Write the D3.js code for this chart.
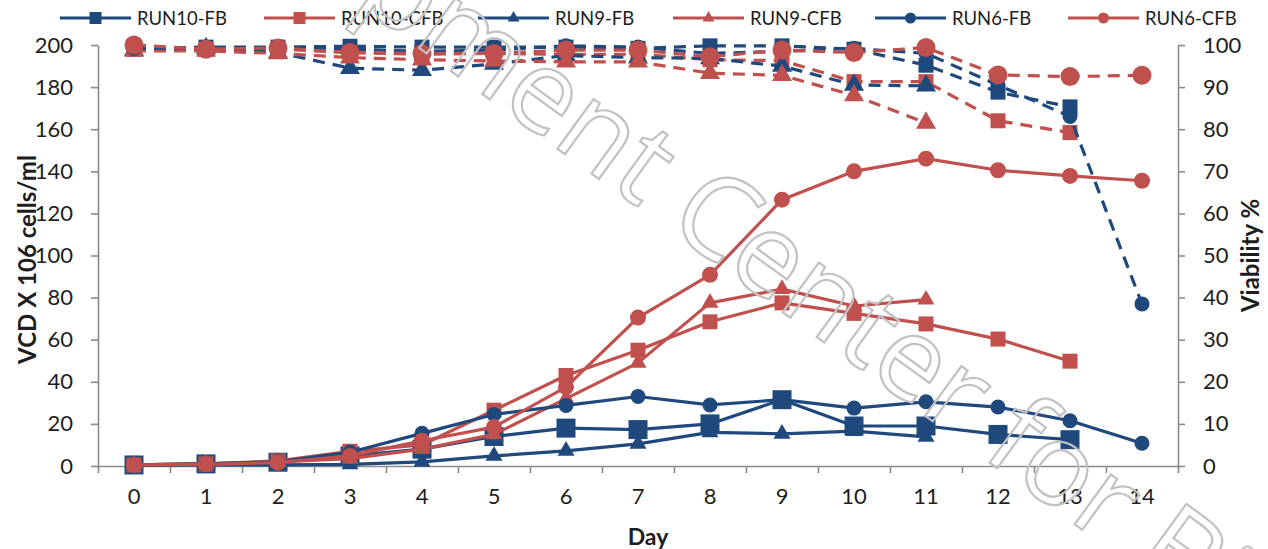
<!DOCTYPE html>
<html><head><meta charset="utf-8">
<script src="https://cdn.jsdelivr.net/npm/d3@7"></script>
<style>
body{margin:0;background:#fff;}
svg{display:block;}
text{font-family:Lato,"Open Sans",sans-serif;}
</style>
</head><body>
<svg id="chart" width="1268" height="549"></svg>
<script>
// ---------- data ----------
const days = d3.range(0, 15);
const vcdTicks = d3.range(0, 201, 20);
const viaTicks = d3.range(0, 101, 10);
const seriesNames = ["RUN10-FB", "RUN10-CFB", "RUN9-FB", "RUN9-CFB", "RUN6-FB", "RUN6-CFB"];

// VCD (x10^6 cells/ml), left axis
const run10FB_vcd  = [0.5, 1, 1.8, 4.8, 8, 14, 18, 17.3, 20, 31.5, 19, 19, 15, 12.5];
const run10CFB_vcd = [0.5, 1, 2.4, 7, 10, 26.5, 43, 55, 68.5, 77.5, 72.5, 67.5, 60.3, 49.8];
const run9FB_vcd   = [0.3, 0.5, 0.5, 0.8, 2, 4.8, 7.2, 10.5, 16, 15.3, 16.6, 13.8];
const run9CFB_vcd  = [0.5, 1, 2, 3.5, 8, 15, 32, 49, 77.5, 84, 76, 79];
const run6FB_vcd   = [0.5, 1, 2, 6.5, 15.5, 24.5, 28.8, 33, 29, 31.5, 27.5, 30.5, 28, 21.5, 10.8];
const run6CFB_vcd  = [0.5, 0.8, 1.6, 4.8, 12, 18.5, 37.5, 70.5, 90.8, 126.5, 140, 146, 140.5, 137.8, 135.5];

// Viability (%), right axis
const run10FB_via  = [99, 99.5, 99.5, 99.7, 99.5, 99.5, 99.5, 99.2, 99.8, 99.8, 99, 95.2, 88.8, 85.3];
const run10CFB_via = [99.5, 99, 99, 98.2, 97.8, 98, 97.8, 97.8, 96.5, 96.3, 91.3, 91.3, 82, 79.2];
const run9FB_via   = [98.8, 99.2, 98.2, 94.5, 94, 95.5, 97.5, 97, 96.8, 95, 90.5, 90.3];
const run9CFB_via  = [98.6, 98.6, 98, 97, 96.5, 96.2, 96, 96, 93.3, 92.8, 88, 81.5];
const run6FB_via   = [99.2, 99.3, 99.3, 99, 98.5, 98.8, 99.8, 99.5, 98, 98.5, 99.2, 98, 90.5, 83, 38.5];
const run6CFB_via  = [100, 99, 99.3, 98.2, 98, 98, 98.8, 98.8, 97.2, 98.8, 98.2, 99.4, 92.9, 92.5, 92.8];

// ---------- styling ----------
const BLUE = "#1f497d", RED = "#c0504d", AXIS = "#8a8a8a", TXT = "#1e1e1e";
const vcdSeries = [
  {name: "RUN10-FB",  vals: run10FB_vcd,  color: BLUE, sym: "square",   size: 19},
  {name: "RUN10-CFB", vals: run10CFB_vcd, color: RED,  sym: "square",   size: 15},
  {name: "RUN9-FB",   vals: run9FB_vcd,   color: BLUE, sym: "triangle", size: 17},
  {name: "RUN9-CFB",  vals: run9CFB_vcd,  color: RED,  sym: "triangle", size: 17},
  {name: "RUN6-FB",   vals: run6FB_vcd,   color: BLUE, sym: "circle",   size: 15},
  {name: "RUN6-CFB",  vals: run6CFB_vcd,  color: RED,  sym: "circle",   size: 16}
];
const viaSeries = [
  {name: "RUN10-FB",  vals: run10FB_via,  color: BLUE, sym: "square",   size: 15},
  {name: "RUN10-CFB", vals: run10CFB_via, color: RED,  sym: "square",   size: 15},
  {name: "RUN9-FB",   vals: run9FB_via,   color: BLUE, sym: "triangle", size: 20},
  {name: "RUN9-CFB",  vals: run9CFB_via,  color: RED,  sym: "triangle", size: 20},
  {name: "RUN6-FB",   vals: run6FB_via,   color: BLUE, sym: "circle",   size: 15},
  {name: "RUN6-CFB",  vals: run6CFB_via,  color: RED,  sym: "circle",   size: 19}
];

const L = 98, R = 1178, T = 45, B = 466;
const svg = d3.select("#chart");

const x = d3.scaleBand().domain(days).range([L, R]).padding(0);
const xEdge = d3.scaleLinear().domain([0, days.length]).range([L, R]);
const yL = d3.scaleLinear().domain([0, 200]).range([B, T]);
const yR = d3.scaleLinear().domain([0, 100]).range([B, T]);

function symPath(sym, size) {
  if (sym === "square") return d3.symbol(d3.symbolSquare, size * size)();
  if (sym === "circle") return d3.symbol(d3.symbolCircle, Math.PI * size * size / 4)();
  return d3.symbol(d3.symbolTriangle, Math.sqrt(3) / 4 * size * size)();
}

// ---------- axes ----------
function styleAxis(g) {
  g.selectAll("path.domain").attr("stroke", AXIS).attr("stroke-width", 1.6);
  g.selectAll(".tick line").attr("stroke", AXIS).attr("stroke-width", 1.6);
  g.selectAll(".tick text").attr("fill", TXT).style("font-size", "22px").style("font-family", "Lato");
}
svg.append("g").attr("transform", `translate(${L},0)`)
  .call(d3.axisLeft(yL).tickValues(vcdTicks).tickSize(7).tickSizeOuter(0).tickPadding(18))
  .call(styleAxis);
svg.append("g").attr("transform", `translate(${R},0)`)
  .call(d3.axisRight(yR).tickValues(viaTicks).tickSize(7).tickSizeOuter(0).tickPadding(18))
  .call(styleAxis);
svg.append("g").attr("transform", `translate(0,${B})`)
  .call(d3.axisBottom(xEdge).tickValues(d3.range(0, days.length + 1)).tickFormat("").tickSize(7).tickSizeOuter(0))
  .call(styleAxis);
const xl = svg.append("g").attr("transform", `translate(0,${B})`)
  .call(d3.axisBottom(x).tickSize(0).tickPadding(22))
  .call(styleAxis);
xl.select("path.domain").remove();

// axis titles
svg.append("text").attr("transform", `translate(36,${(T + B) / 2 + 4}) rotate(-90)`)
  .attr("text-anchor", "middle").attr("fill", TXT)
  .style("font-size", "24px").style("font-weight", "bold").text("VCD X 106 cells/ml");
svg.append("text").attr("transform", `translate(1259,${(T + B) / 2}) rotate(-90)`)
  .attr("text-anchor", "middle").attr("fill", TXT)
  .style("font-size", "24px").style("font-weight", "bold").text("Viability %");
svg.append("text").attr("x", 648).attr("y", 545)
  .attr("text-anchor", "middle").attr("fill", TXT)
  .style("font-size", "23px").style("font-weight", "bold").text("Day");

// ---------- series ----------
function drawSeries(s, yScale, dashed) {
  const pts = s.vals.map((v, i) => [x(days[i]) + x.bandwidth() / 2, yScale(v)]);
  const g = svg.append("g");
  g.append("path").attr("d", d3.line()(pts)).attr("fill", "none")
    .attr("stroke", s.color).attr("stroke-width", 3.2)
    .attr("stroke-linejoin", "round")
    .attr("stroke-dasharray", dashed ? "12,8" : null);
  g.selectAll("path.m").data(pts).join("path").attr("class", "m")
    .attr("transform", d => `translate(${d[0]},${d[1]})`)
    .attr("d", symPath(s.sym, s.size)).attr("fill", s.color);
}
vcdSeries.forEach(s => drawSeries(s, yL, false));
viaSeries.forEach(s => drawSeries(s, yR, true));

// ---------- legend ----------
const legendX = [60, 264, 478, 673, 875, 1068];
const legendSym = {square: 12, triangle: 12, circle: 11};
const lg = svg.append("g");
vcdSeries.forEach((s, i) => {
  const g = lg.append("g").attr("transform", `translate(${legendX[i]},18)`);
  g.append("line").attr("x1", 0).attr("x2", 71).attr("stroke", s.color).attr("stroke-width", 3.2);
  g.append("path").attr("transform", "translate(35.5,0)").attr("d", symPath(s.sym, legendSym[s.sym])).attr("fill", s.color);
  g.append("text").attr("x", 77).attr("y", 6.5).attr("fill", TXT)
    .style("font-size", "18.5px").text(s.name);
});

// ---------- watermark ----------
const wm = svg.append("text")
  .attr("fill", "none").attr("stroke", "#c2c2c2").attr("stroke-width", 2.2)
  .style("font-family", "Open Sans").style("font-size", "115px")
  .text("Development Center for Biotechnology");
const pre = wm.node().getSubStringLength(0, 12);
const angDeg = 36, ang = angDeg * Math.PI / 180;
const cx = 664, cy = 226;
const sx = cx - pre * Math.cos(ang), sy = cy - pre * Math.sin(ang);
wm.attr("transform", `translate(${sx},${sy}) rotate(${angDeg})`);
</script>
</body></html>
